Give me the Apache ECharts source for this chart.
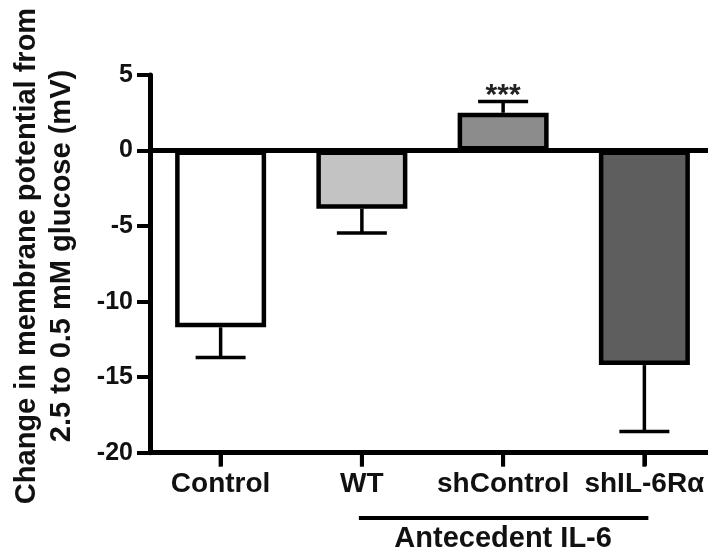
<!DOCTYPE html>
<html>
<head>
<meta charset="utf-8">
<script src="https://cdn.jsdelivr.net/npm/echarts@6/dist/echarts.min.js"></script>
<style>
  html, body { margin: 0; padding: 0; background: #ffffff; }
  #chart { width: 708px; height: 556px; }
</style>
</head>
<body>
<div id="chart"></div>
<script>
// Groups shown along the x axis
const categories = ['Control', 'WT', 'shControl', 'shIL-6Rα'];
// Mean change in membrane potential (mV)
const means = [-11.7, -3.85, 2.5, -14.2];
// Standard error of each mean (mV)
const errors = [2.0, 1.6, 0.75, 4.4];
// Bar fill per group
const fills = ['#ffffff', '#c3c3c3', '#8c8c8c', '#5e5e5e'];
// Significance marks above error bars
const marks = ['', '', '***', ''];
// Y axis range and step
const yMin = -20, yMax = 5, yStep = 5;

const FONT = '"Liberation Sans", Arial, Helvetica, sans-serif';

const chart = echarts.init(document.getElementById('chart'), null, { renderer: 'canvas' });

const barData = means.map((v, i) => ({
  value: v,
  itemStyle: { color: fills[i] }
}));
const errData = means.map((v, i) => [i, v, errors[i]]);

// Error bar pointing away from zero, with cap and optional significance mark
function renderError(params, api) {
  const i = api.value(0);
  const m = api.value(1);
  const e = api.value(2);
  const end = m + (m < 0 ? -e : e);
  const p0 = api.coord([i, m]);
  const p1 = api.coord([i, end]);
  const half = 25;
  const stroke = { stroke: '#000', lineWidth: 3.5 };
  const children = [
    { type: 'line', shape: { x1: p0[0], y1: p0[1], x2: p1[0], y2: p1[1] }, style: stroke },
    { type: 'line', shape: { x1: p1[0] - half, y1: p1[1], x2: p1[0] + half, y2: p1[1] }, style: stroke }
  ];
  const mark = marks[params.dataIndex];
  if (mark) {
    children.push({
      type: 'text',
      style: {
        x: p1[0], y: p1[1] - 6,
        text: mark,
        fill: '#222',
        font: 'bold 30px ' + FONT,
        textAlign: 'center',
        textVerticalAlign: 'middle'
      }
    });
  }
  return { type: 'group', children: children };
}

chart.setOption({
  animation: false,
  backgroundColor: '#ffffff',
  grid: { left: 150, right: -7, top: 75, bottom: 103.3, outerBoundsMode: 'none' },
  xAxis: {
    type: 'category',
    data: categories,
    axisLine: { onZero: false, lineStyle: { color: '#000', width: 5 } },
    axisTick: {
      show: true,
      alignWithLabel: true,
      interval: 0,
      length: 13,
      lineStyle: { color: '#000', width: 4 }
    },
    axisLabel: {
      interval: 0,
      hideOverlap: false,
      margin: 18,
      color: '#111',
      fontFamily: FONT,
      fontWeight: 'bold',
      fontSize: 28
    },
    splitLine: { show: false }
  },
  yAxis: {
    type: 'value',
    min: yMin,
    max: yMax,
    interval: yStep,
    axisLine: { show: true, lineStyle: { color: '#000', width: 5 } },
    axisTick: { show: true, length: 13, lineStyle: { color: '#000', width: 4 } },
    axisLabel: {
      margin: 17,
      color: '#111',
      fontFamily: FONT,
      fontWeight: 'bold',
      fontSize: 25
    },
    splitLine: { show: false }
  },
  series: [
    {
      type: 'bar',
      data: barData,
      barWidth: 91,
      itemStyle: { borderColor: '#000', borderWidth: 4.5 },
      markLine: {
        silent: true,
        symbol: 'none',
        label: { show: false },
        lineStyle: { color: '#000', width: 5, type: 'solid' },
        data: [{ yAxis: 0 }]
      },
      z: 2
    },
    {
      type: 'custom',
      renderItem: renderError,
      data: errData,
      z: 3
    }
  ]
});

// Category ticks below the bottom axis, placed through the axis scales
const axisY = chart.convertToPixel({ yAxisIndex: 0 }, yMin);
const tickMarks = categories.map((c) => {
  const x = chart.convertToPixel({ xAxisIndex: 0 }, c);
  return {
    type: 'rect',
    z: 100,
    zlevel: 1,
    shape: { x: x - 2, y: axisY, width: 4, height: 14 },
    style: { fill: '#000' }
  };
});

// Bracket under the IL-6 treated groups, with its caption
const xStart = chart.convertToPixel({ xAxisIndex: 0 }, categories[1]);
const xEnd = chart.convertToPixel({ xAxisIndex: 0 }, categories[3]);
const xMid = (xStart + xEnd) / 2;

chart.setOption({
  graphic: tickMarks.concat([
    {
      type: 'line',
      shape: { x1: xStart - 3, y1: 518, x2: xEnd + 4, y2: 518 },
      style: { stroke: '#000', lineWidth: 4 }
    },
    {
      type: 'text',
      x: xMid,
      y: 539,
      style: {
        text: 'Antecedent IL-6',
        fill: '#111',
        font: 'bold 29px ' + FONT,
        textAlign: 'center',
        textVerticalAlign: 'middle'
      }
    },
    {
      type: 'text',
      x: 44,
      y: 256,
      rotation: Math.PI / 2,
      style: {
        text: 'Change in membrane potential from\n2.5 to 0.5 mM glucose (mV)',
        fill: '#111',
        font: 'bold 29px ' + FONT,
        lineHeight: 35,
        textAlign: 'center',
        textVerticalAlign: 'middle'
      }
    }
  ])
});
</script>
</body>
</html>
